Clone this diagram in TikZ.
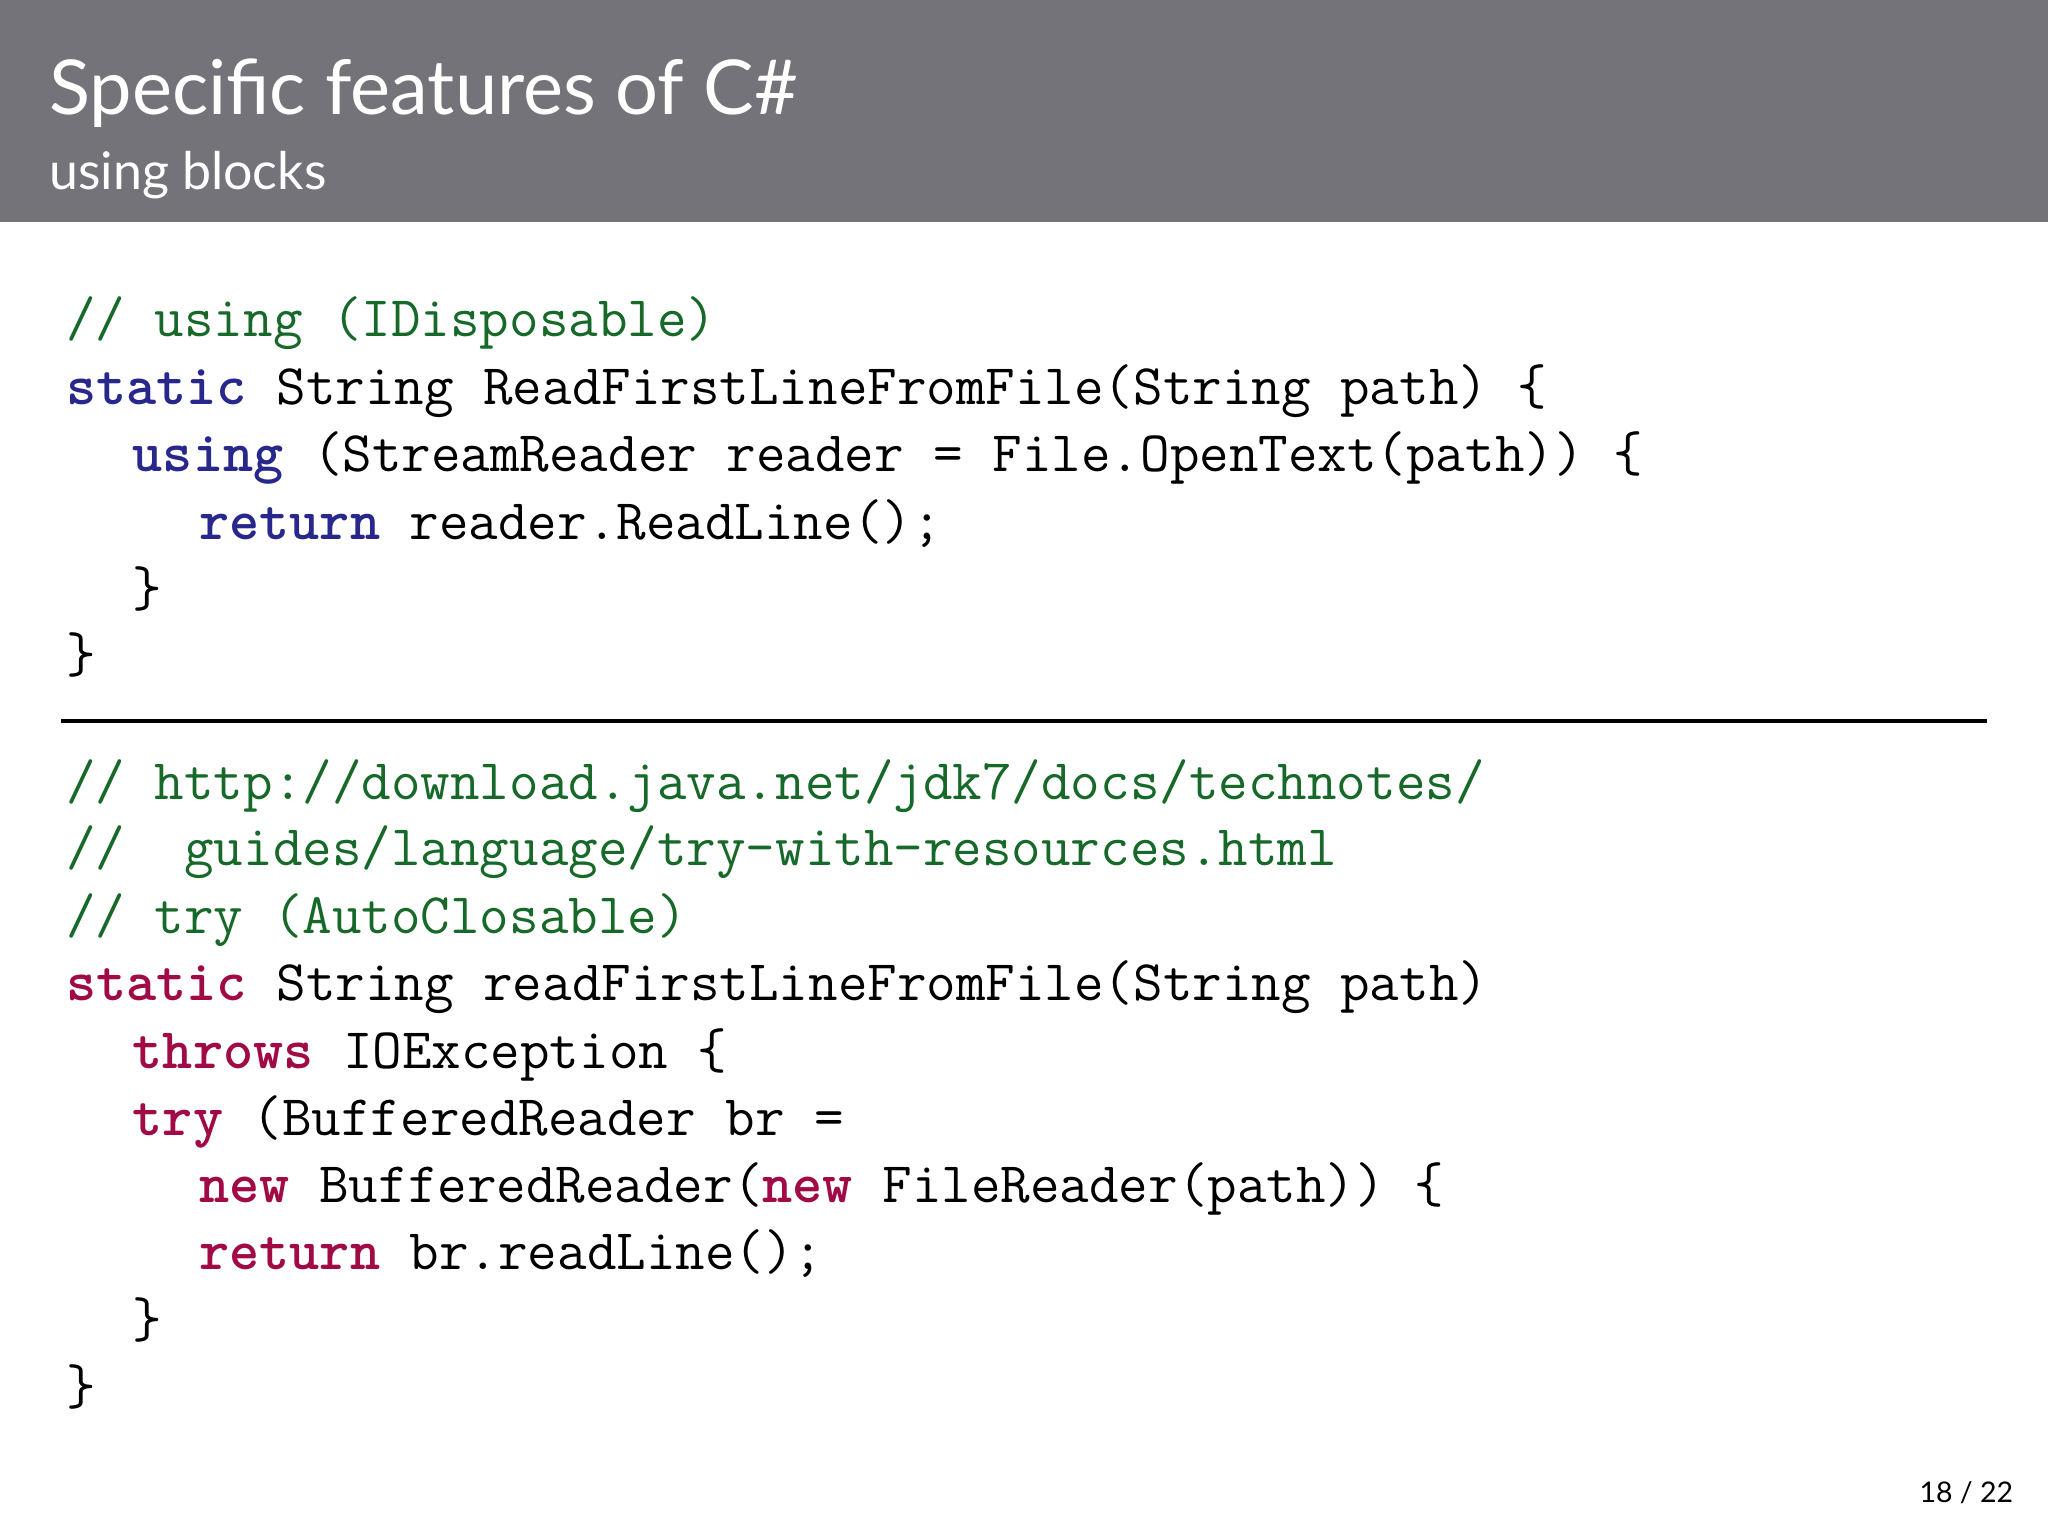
\documentclass[tikz,border=0pt]{standalone}
\usepackage{fontspec}
\usepackage{tikz}
\usetikzlibrary{positioning}
\newfontfamily\titlefont{Lato}
\definecolor{headgray}{RGB}{115,115,121}
\definecolor{cmtgreen}{RGB}{22,105,40}
\definecolor{kwblue}{RGB}{40,40,140}
\definecolor{kwred}{RGB}{160,10,70}
\newcommand{\kwb}[1]{{\color{kwblue}\bfseries #1}}
\newcommand{\kwr}[1]{{\color{kwred}\bfseries #1}}
\newcommand{\cmt}[1]{{\color{cmtgreen}#1}}
\tikzset{
  codeline/.style={anchor=base west, inner sep=0pt,
    font=\fontsize{12.5pt}{15pt}\ttfamily\addfontfeatures{LetterSpace=8}},
}
\begin{document}
\begin{tikzpicture}[x=1cm,y=1cm]
      \useasboundingbox (0,0) rectangle (15.68,-11.76);
      \fill [headgray] (0,0) rectangle (15.68,-1.70);
      \node [anchor=base west, inner sep=0pt, white, font=\titlefont\fontsize{16.5pt}{20pt}\selectfont]
      (title) at (0.37,-0.88) {Specific features of C\#};
      \node [anchor=base west, inner sep=0pt, white, font=\titlefont\fontsize{11.3pt}{14pt}\selectfont]
      (subtitle) at (0.37,-1.45) {using blocks};

      % using block
      \node [codeline] (a1) at (0.50,-2.58) {\cmt{//\ using\ (IDisposable)}};
      \node [codeline] (a2) at (0.50,-3.10) {\kwb{static} String ReadFirstLineFromFile(String path) \{};
      \node [codeline] (a3) at (1.01,-3.61) {\kwb{using} (StreamReader reader = File.OpenText(path)) \{};
      \node [codeline] (a4) at (1.52,-4.13) {\kwb{return} reader.ReadLine();};
      \node [codeline] (a5) at (1.01,-4.64) {\}};
      \node [codeline] (a6) at (0.50,-5.15) {\}};

      \draw [line width=0.9pt] (0.47,-5.52) -- (15.21,-5.52);

      % try-with-resources
      \node [codeline] (b1) at (0.50,-6.12) {\cmt{//\ http://download.java.net/jdk7/docs/technotes/}};
      \node [codeline] (b2) at (0.50,-6.63) {\cmt{//\ \ guides/language/try-with-resources.html}};
      \node [codeline] (b3) at (0.50,-7.15) {\cmt{//\ try\ (AutoClosable)}};
      \node [codeline] (b4) at (0.50,-7.66) {\kwr{static} String readFirstLineFromFile(String path)};
      \node [codeline] (b5) at (1.01,-8.18) {\kwr{throws} IOException \{};
      \node [codeline] (b6) at (1.01,-8.69) {\kwr{try} (BufferedReader br =};
      \node [codeline] (b7) at (1.52,-9.21) {\kwr{new} BufferedReader(\kwr{new} FileReader(path)) \{};
      \node [codeline] (b8) at (1.52,-9.72) {\kwr{return} br.readLine();};
      \node [codeline] (b9) at (1.01,-10.24) {\}};
      \node [codeline] (b10) at (0.50,-10.75) {\}};

      \node [anchor=base east, inner sep=0pt, font=\titlefont\fontsize{6.2pt}{7pt}\selectfont]
      (page) at (15.42,-11.50) {18 / 22};
    \end{tikzpicture}
\end{document}
